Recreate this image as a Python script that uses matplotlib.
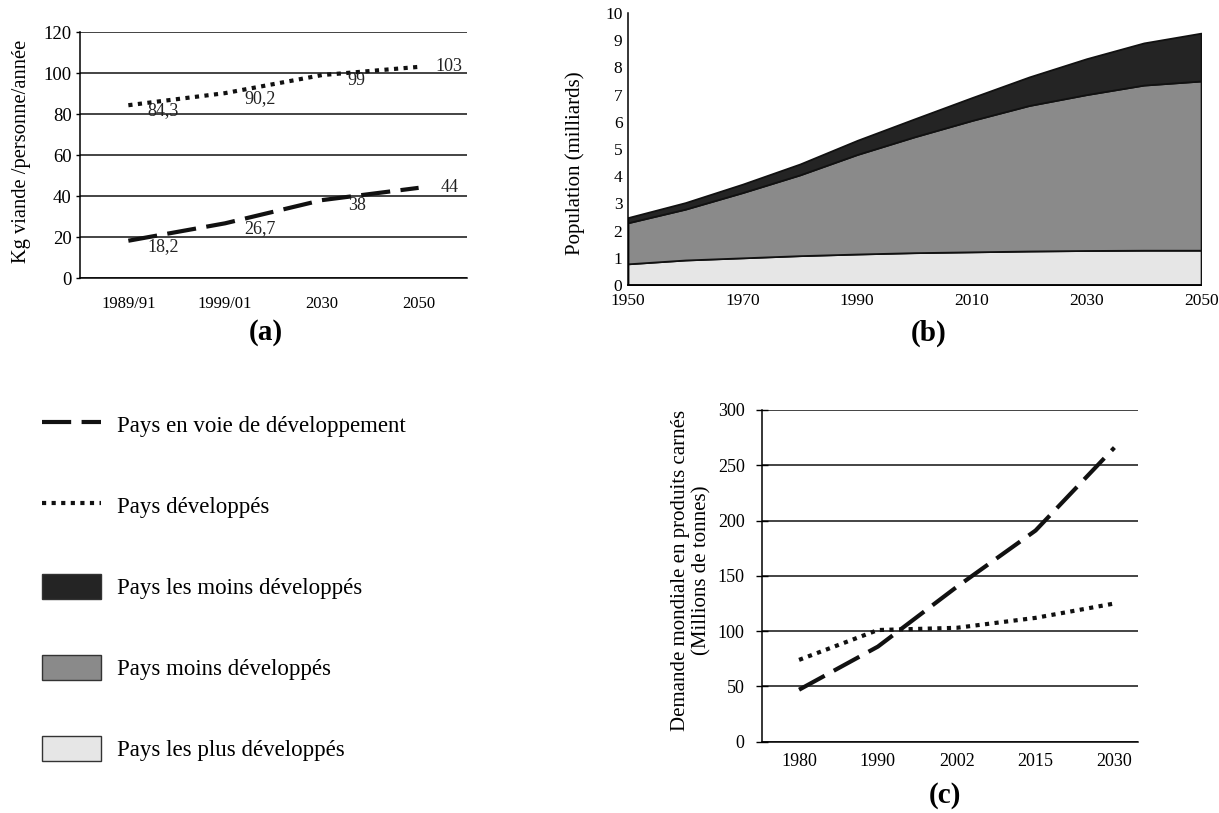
import matplotlib.pyplot as plt
from matplotlib.lines import Line2D
from matplotlib.patches import Patch

plt.rcParams['font.family'] = ['Liberation Serif', 'DejaVu Serif']

# ===== Données =====
# (a) consommation de viande
periodes = ['1989/91', '1999/01', '2030', '2050']
viande_dev = [84.3, 90.2, 99, 103]
viande_pvd = [18.2, 26.7, 38, 44]

# (b) population (milliards)
annees = [1950, 1960, 1970, 1980, 1990, 2000, 2010, 2020, 2030, 2040, 2050]
pop_plus_dev = [0.78, 0.92, 1.00, 1.08, 1.14, 1.19, 1.22, 1.25, 1.27, 1.28, 1.28]
pop_moins_dev = [1.51, 1.87, 2.40, 2.97, 3.66, 4.26, 4.83, 5.35, 5.73, 6.07, 6.22]
pop_les_moins_dev = [0.19, 0.24, 0.31, 0.40, 0.52, 0.66, 0.84, 1.05, 1.32, 1.55, 1.76]

# (c) demande mondiale en produits carnés
annees_c = ['1980', '1990', '2002', '2015', '2030']
demande_pvd = [47, 86, 140, 191, 266]
demande_dev = [74, 101, 103, 112, 125]

noir = '#111111'
c_sombre = '#242424'
c_moyen = '#8a8a8a'
c_clair = '#e6e6e6'
style_tirets = (0, (7, 2.5))
style_points = (0, (1, 1.3))

fig = plt.figure(figsize=(12.19, 8.13), dpi=100)

# ===== Plot (a) =====
ax_a = fig.add_axes([0.0656, 0.658, 0.3175, 0.3026])
xa = range(len(periodes))
ax_a.plot(xa, viande_dev, color=noir, lw=3.0, linestyle=style_points)
ax_a.plot(xa, viande_pvd, color=noir, lw=3.0, linestyle=style_tirets)
for serie in (viande_dev, viande_pvd):
    for i, v in enumerate(serie):
        txt = ('%g' % v).replace('.', ',')
        dx, dy = (25, -4) if i < len(serie) - 1 else (22, 0)
        ax_a.annotate(txt, (i, v), xytext=(dx, dy), textcoords='offset points',
                      ha='center', va='center', fontsize=13, color='#222222')
ax_a.set_xlim(-0.5, 3.5)
ax_a.set_ylim(0, 120)
ax_a.set_yticks(range(0, 121, 20))
ax_a.set_xticks(list(xa))
ax_a.set_xticklabels(periodes)
ax_a.yaxis.grid(True, color=noir, lw=1.1)
ax_a.set_axisbelow(True)
for s in ('top', 'right'):
    ax_a.spines[s].set_visible(False)
ax_a.spines['left'].set_linewidth(1.1)
ax_a.spines['bottom'].set_linewidth(1.1)
ax_a.tick_params(axis='x', length=0, pad=13, labelsize=12)
ax_a.tick_params(axis='y', length=3, width=1, pad=3, labelsize=13.5)
fig.text(0.018, 0.8143, 'Kg viande /personne/année', rotation=90,
         ha='center', va='center', fontsize=14.8)
fig.text(0.2182, 0.5916, '(a)', ha='center', va='center', fontsize=21, fontweight='bold')

# ===== Plot (b) =====
ax_b = fig.add_axes([0.5152, 0.6494, 0.4701, 0.3346])
ax_b.stackplot(annees, pop_plus_dev, pop_moins_dev, pop_les_moins_dev,
               colors=[c_clair, c_moyen, c_sombre], edgecolor=noir, linewidth=1.3)
ax_b.set_xlim(1950, 2050)
ax_b.set_ylim(0, 10)
ax_b.set_yticks(range(0, 11))
ax_b.set_xticks(range(1950, 2051, 20))
for s in ('top', 'right'):
    ax_b.spines[s].set_visible(False)
ax_b.spines['left'].set_linewidth(1.1)
ax_b.spines['bottom'].set_linewidth(1.3)
ax_b.tick_params(axis='both', length=0, labelsize=12.5)
ax_b.tick_params(axis='x', pad=6)
ax_b.tick_params(axis='y', pad=4)
fig.text(0.4717, 0.7989, 'Population (milliards)', rotation=90,
         ha='center', va='center', fontsize=15)
fig.text(0.7621, 0.5904, '(b)', ha='center', va='center', fontsize=21, fontweight='bold')

# ===== Légende =====
poignees = [
    Line2D([], [], color=noir, lw=3.0, linestyle=style_tirets),
    Line2D([], [], color=noir, lw=3.0, linestyle=style_points),
    Patch(facecolor=c_sombre, edgecolor='#333333', lw=1),
    Patch(facecolor=c_moyen, edgecolor='#333333', lw=1),
    Patch(facecolor=c_clair, edgecolor='#333333', lw=1),
]
etiquettes = ['Pays en voie de développement', 'Pays développés',
              'Pays les moins développés', 'Pays moins développés',
              'Pays les plus développés']
fig.legend(poignees, etiquettes, loc='upper left', bbox_to_anchor=(0.0345, 0.4935),
           frameon=False, fontsize=16.5, handlelength=2.58, handleheight=1.27,
           handletextpad=0.7, labelspacing=2.45, borderpad=0, borderaxespad=0)

# ===== Plot (c) =====
ax_c = fig.add_axes([0.6251, 0.0877, 0.3085, 0.408])
xc = range(len(annees_c))
ax_c.plot(xc, demande_pvd, color=noir, lw=3.0, linestyle=style_tirets)
ax_c.plot(xc, demande_dev, color=noir, lw=3.0, linestyle=style_points)
ax_c.set_xlim(-0.47, 4.30)
ax_c.set_ylim(0, 300)
ax_c.set_yticks(range(0, 301, 50))
ax_c.set_xticks(list(xc))
ax_c.set_xticklabels(annees_c)
ax_c.yaxis.grid(True, color=noir, lw=1.1)
ax_c.set_axisbelow(True)
for s in ('top', 'right'):
    ax_c.spines[s].set_visible(False)
ax_c.spines['left'].set_linewidth(1.1)
ax_c.spines['bottom'].set_linewidth(1.1)
ax_c.tick_params(axis='x', length=0, pad=8, labelsize=13)
ax_c.tick_params(axis='y', direction='inout', length=9, width=1, pad=8, labelsize=13)
fig.text(0.5669, 0.2989, 'Demande mondiale en produits carnés\n(Millions de tonnes)',
         rotation=90, ha='center', va='center', fontsize=15,
         multialignment='center')
fig.text(0.7752, 0.0221, '(c)', ha='center', va='center', fontsize=21, fontweight='bold')

fig.savefig('out.png', dpi=100)
